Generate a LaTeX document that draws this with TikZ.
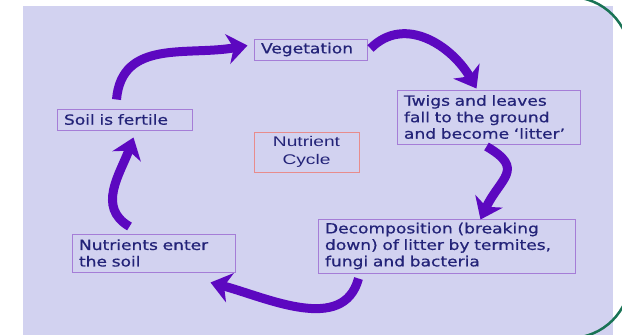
\documentclass[tikz,border=0pt]{standalone}
\usepackage{fontspec}
\usepackage{tikz}
\usetikzlibrary{arrows.meta,positioning}
\newfontfamily\comicfont[FakeStretch=1.22,FakeBold=0.6]{DejaVu Sans}
\newfontfamily\cyclefont[FakeStretch=1.37]{Liberation Sans}
\definecolor{slidebg}{RGB}{210,210,240}
\definecolor{textblue}{RGB}{35,35,120}
\definecolor{boxline}{RGB}{165,125,215}
\definecolor{cycleline}{RGB}{232,140,140}
\definecolor{arrowpurple}{RGB}{92,8,192}
\definecolor{framegreen}{RGB}{25,115,85}
\tikzstyle{BOX} = [rectangle, draw=boxline, line width=1pt, align=left, text=textblue, inner xsep=7pt, inner ysep=3pt, font=\comicfont\fontsize{14}{16.5}\selectfont]
\tikzstyle{CYCLEBOX} = [rectangle, draw=cycleline, line width=1pt, align=center, text=textblue, font=\cyclefont\fontsize{14}{18}\selectfont]
\tikzstyle{BIGARROW} = [draw=arrowpurple, line width=9pt, -{Stealth[length=20pt,width=30pt,inset=6pt]}]

\begin{document}
\begin{tikzpicture}[x=1pt, y=1pt, node distance=100pt]
% Slide
\useasboundingbox (0,0) rectangle (622,-335);
\fill[slidebg] (23,-6) rectangle (613,-335);
\draw[framegreen, line width=2.5pt, rounded corners=60pt] (-100,3) rectangle (630,-338);
% Place nodes
\node[CYCLEBOX, minimum width=105pt, minimum height=40pt] (cycle) at (306.5,-152) {Nutrient\\Cycle};
\node[BOX, text width=99pt, minimum height=21pt, above of=cycle, xshift=4pt, yshift=2.5pt] (veg) {Vegetation};
\node[BOX, text width=169pt, minimum height=54pt, right of=cycle, xshift=82pt, yshift=35pt] (twigs) {Twigs and leaves\\fall to the ground\\and become ‘litter’};
\node[BOX, text width=243pt, minimum height=54pt, below of=cycle, xshift=140pt, yshift=6pt] (decomp) {Decomposition (breaking\\down) of litter by termites,\\fungi and bacteria};
\node[BOX, text width=149pt, minimum height=38pt, below of=cycle, xshift=-153pt, yshift=-1pt] (enter) {Nutrients enter\\the soil};
\node[BOX, text width=121pt, minimum height=21pt, left of=cycle, xshift=-82pt, yshift=32.5pt] (soil) {Soil is fertile};
% Curved arrows
\path[BIGARROW] ([xshift=-8pt, yshift=9pt]soil.north) to[out=85, in=190, looseness=1.1] ([xshift=-6pt, yshift=4pt]veg.west);
\path[BIGARROW] ([xshift=3pt, yshift=1pt]veg.east) to[out=45, in=120, looseness=1.1] ([xshift=-12pt, yshift=1pt]twigs.north);
\path[BIGARROW] ([xshift=-2pt, yshift=-2pt]twigs.south) to[out=-30, in=65, looseness=1.6] ([xshift=34pt, yshift=-1pt]decomp.north);
\path[BIGARROW] ([xshift=41pt, yshift=-5pt]decomp.south west) to[out=-105, in=-15] ([xshift=-25pt, yshift=-10pt]enter.south east);
\path[BIGARROW] ([xshift=58pt, yshift=7pt]enter.north west) to[out=150, in=250, looseness=1.1] ([xshift=9pt, yshift=-7pt]soil.south);
\end{tikzpicture}
\end{document}
